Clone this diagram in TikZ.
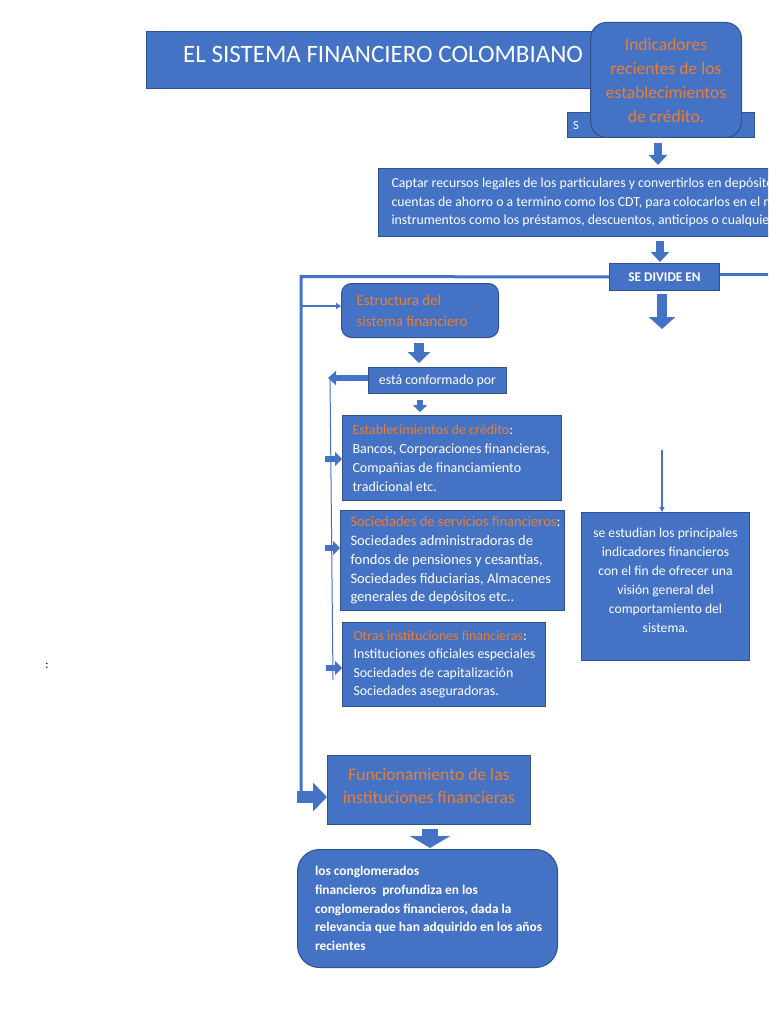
\documentclass[tikz,border=0pt]{standalone}
\usepackage{fontspec}
\setmainfont{Carlito}
\usetikzlibrary{arrows.meta,calc}
\definecolor{boxblue}{HTML}{4472C4}
\definecolor{boxedge}{HTML}{2F528F}
\definecolor{orangetxt}{HTML}{ED7D31}
\tikzset{
  box/.style={draw=boxedge, fill=boxblue, line width=1pt, text=white, inner sep=0pt, anchor=north west},
  rbox/.style={box, rounded corners=#1},
  fs/.style 2 args={font=\fontsize{#1}{#2}\selectfont},
  frame/.style={draw=boxblue, line width=3pt},
  thinline/.style={draw=boxblue, line width=1.2pt},
  blockarrow/.style n args={3}{draw=boxblue, line width=#1pt, -{Triangle[width=#2pt,length=#3pt]}, color=boxblue},
}
\begin{document}
\begin{tikzpicture}[x=1pt,y=-1pt]
\useasboundingbox (0,0) rectangle (768,1024);
\clip (0,0) rectangle (768,1024);
\fill[white] (0,0) rectangle (768,1024);

% title
\node[box, minimum width=460, minimum height=57] (title) at (146,31) {};
\node[anchor=west, text=white, fs={25}{28}, inner sep=0pt] (titletext) at ($(title.west)+(37,-6)$) {EL SISTEMA FINANCIERO COLOMBIANO};

% hidden box behind indicators
\node[box, minimum width=187, minimum height=25] (sbox) at (567,112) {};
\node[anchor=west, text=white, fs={12.5}{14}, inner sep=0pt] (stext) at ($(sbox.west)+(6,0)$) {S};

% indicators rounded box
\node[rbox=16pt, minimum width=151, minimum height=115, text=orangetxt, align=center, fs={17.5}{24}] (ind) at (590,22)
  {Indicadores\\recientes de los\\establecimientos\\de crédito.};

% Captar box
\node[box, minimum width=520, minimum height=68, align=left, fs={13.8}{18.5}] (captar) at (378,168)
  {\hspace{11pt}\parbox[c]{505pt}{Captar recursos legales de los particulares y convertirlos en depósitos\\
  cuentas de ahorro o a termino como los CDT, para colocarlos en el mercado\\
  instrumentos como los préstamos, descuentos, anticipos o cualquier}};

% SE DIVIDE EN
\node[box, minimum width=110, minimum height=27, fs={13.3}{14}] (divide) at (609,263) {\bfseries SE DIVIDE EN};

% Estructura
\node[rbox=10pt, minimum width=157, minimum height=54, text=orangetxt, fs={15}{21}] (estr) at (341,283)
  {\hspace{13pt}\parbox[c]{140pt}{Estructura del\\sistema financiero}};

% está conformado por
\node[box, minimum width=138, minimum height=26, fs={13.8}{15}] (conf) at (368,367) {está conformado por};

% Establecimientos
\node[box, minimum width=219, minimum height=85, fs={14}{19}] (estab) at (342,415)
  {\hspace{9pt}\parbox[c]{208pt}{\textcolor{orangetxt}{Establecimientos de crédito}:\\Bancos, Corporaciones financieras,\\Compañias de financiamiento\\tradicional etc.}};

% Sociedades
\node[box, minimum width=224, minimum height=100, fs={14.5}{18.75}] (soc) at (340,510)
  {\hspace{9pt}\parbox[c]{213pt}{\textcolor{orangetxt}{Sociedades de servicios financieros}:\\Sociedades administradoras de\\fondos de pensiones y cesantías,\\Sociedades fiduciarias, Almacenes\\generales de depósitos etc..}};

% Otras
\node[box, minimum width=203, minimum height=84, fs={13.9}{18.3}] (otras) at (342,622)
  {\hspace{10pt}\parbox[c]{191pt}{\textcolor{orangetxt}{Otras instituciones financieras}:\\Instituciones oficiales especiales\\Sociedades de capitalización\\Sociedades aseguradoras.}};

% right box
\node[box, minimum width=168, minimum height=148, align=center, fs={13.6}{19}] (indic) at (581,512)
  {se estudian los principales\\indicadores financieros\\con el fin de ofrecer una\\visión general del\\comportamiento del\\sistema.\\[-7pt]};

% Funcionamiento
\node[box, minimum width=203, minimum height=69, align=center, text=orangetxt, fs={17.6}{23}] (func) at (327,755)
  {Funcionamiento de las\\instituciones financieras\\[-15pt]};

% Conglomerados
\node[rbox=22pt, minimum width=260, minimum height=118, fs={13.4}{18.75}] (congl) at (297,849)
  {\hspace{15pt}\parbox[c]{240pt}{\bfseries los conglomerados\\financieros\ \ profundiza en los\\conglomerados financieros, dada la\\relevancia que han adquirido en los años\\recientes}};

% colon
\node[fs={12}{14}] (colon) at (47,666) {:};

% block arrows
\draw[blockarrow={8}{18}{10}, shorten <=5pt, shorten >=3pt] (sbox.south -| 658,0) -- (captar.north -| 658,0);
\draw[blockarrow={8}{18}{10}, shorten <=4pt, shorten >=1pt] (captar.south -| 660,0) -- (divide.north -| 660,0);
\coordinate (divend) at (662,329);
\draw[blockarrow={10}{26}{12}, shorten <=3pt] (divide.south -| 662,0) -- (divend);
\draw[blockarrow={10}{22}{11}, shorten <=5pt, shorten >=4pt] (estr.south -| 419,0) -- (conf.north -| 419,0);
\draw[blockarrow={6}{14}{7}, shorten <=6pt, shorten >=3pt] (conf.south -| 420,0) -- (estab.north -| 420,0);
\draw[blockarrow={16}{40}{12}, shorten <=4pt, shorten >=1pt] (func.south -| 430,0) -- (congl.north -| 430,0);

% frame lines
\coordinate (ftop) at (301,276.5);
\coordinate (fbot) at (301,797);
\draw[frame] (divide.west) -- (ftop) -- (fbot);
\coordinate (rstart) at ([yshift=2.5pt]divide.east);
\coordinate (rend) at (790,0);
\draw[frame] (rstart) -- (rstart -| rend);
\coordinate (j1) at (301,306);
\draw[thinline, -{Triangle[width=6pt,length=5pt]}] (j1) -- (j1 -| estr.west);
\draw[blockarrow={12}{28}{14}, shorten <=-4pt] (fbot) -- (fbot -| func.west);

% left thin branch
\coordinate (c1) at (328,378);
\coordinate (c2) at (333,680);
\draw[blockarrow={6}{14}{8}] (conf.west |- c1) -- (c1);
\draw[draw=boxblue, line width=1pt] (330,378) -- (c2);
\coordinate (b1) at (325,459);
\coordinate (b2) at (325,548);
\coordinate (b3) at (326,668);
\draw[blockarrow={6}{14}{7}] (b1) -- (b1 -| estab.west);
\draw[blockarrow={6}{14}{7}] (b2) -- (b2 -| soc.west);
\draw[blockarrow={6}{14}{7}] (b3) -- (b3 -| otras.west);

% thin arrow right column
\coordinate (t1) at (662,450);
\draw[draw=boxblue, line width=1.5pt, -{Triangle[width=5pt,length=5pt]}] (t1) -- (indic.north -| t1);
\end{tikzpicture}
\end{document}
